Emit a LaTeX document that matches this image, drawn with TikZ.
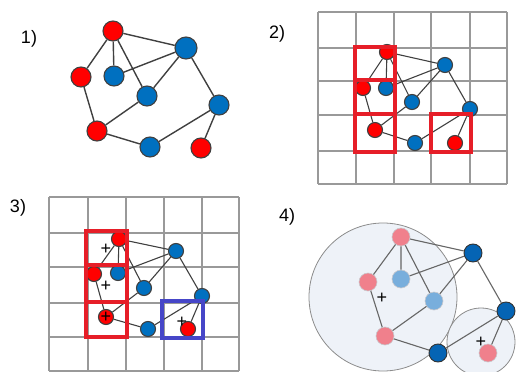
\documentclass[tikz,border=0pt]{standalone}
\usepackage{fontspec}
\setmainfont{Liberation Sans}
\begin{document}
\begin{tikzpicture}[x=1pt,y=-1pt,
  vred/.style={circle,draw=black!75,line width=1.1pt,fill=red,minimum size=#1,inner sep=0pt},
  vblue/.style={circle,draw=black!75,line width=1.1pt,fill={rgb,255:red,0;green,112;blue,192},minimum size=#1,inner sep=0pt},
  vpink/.style={circle,draw={rgb,255:red,200;green,200;blue,205},line width=0.6pt,fill={rgb,255:red,240;green,128;blue,140},minimum size=18pt,inner sep=0pt},
  vlblue/.style={circle,draw={rgb,255:red,200;green,200;blue,205},line width=0.6pt,fill={rgb,255:red,120;green,174;blue,220},minimum size=18pt,inner sep=0pt},
  vdblue/.style={circle,draw=black!80,line width=0.9pt,fill={rgb,255:red,5;green,100;blue,180},minimum size=18pt,inner sep=0pt},
  edge/.style={draw=black!75,line width=1.4pt},
  gridl/.style={draw=black!40,line width=1.4pt},
  selbox/.style={draw={rgb,255:red,230;green,30;blue,40},line width=4pt},
  bluebox/.style={draw={rgb,255:red,70;green,70;blue,200},line width=4pt},
  region/.style={draw=black!45,line width=0.8pt,fill={rgb,255:red,238;green,242;blue,248}},
  lbl/.style={font=\fontsize{18}{20}\selectfont,inner sep=0pt},
  plus/.style={font=\fontsize{18}{18}\selectfont,inner sep=0pt}]
\useasboundingbox (0,0) rectangle (517,372);

% ---------- Panel 1 ----------
\node[lbl] (l1) at (29,39) {1)};
\node[vred=20pt]  (a1) at (113,31) {};
\node[vblue=22pt] (b1) at (186,48) {};
\node[vred=20pt]  (c1) at (81,77) {};
\node[vblue=20pt] (d1) at (114,76) {};
\node[vblue=20pt] (e1) at (147,96) {};
\node[vblue=20pt] (f1) at (219,105) {};
\node[vred=20pt]  (g1) at (97,131) {};
\node[vblue=20pt] (h1) at (150,147) {};
\node[vred=20pt]  (i1) at (201,148) {};
\draw[edge] (a1)--(b1) (a1)--(c1) (a1)--(d1) (a1)--(e1) (d1)--(b1) (e1)--(b1)
  (b1)--(f1) (c1)--(g1) (g1)--(e1) (g1)--(h1) (h1)--(f1) (f1)--(i1);

% ---------- Panel 2 ----------
\node[lbl] (l2) at (277,34) {2)};
\foreach \x in {318,356,394,431,470,507} \draw[gridl] (\x,12) -- (\x,184);
\foreach \y in {12,48,81,115,151,184} \draw[gridl] (318,\y) -- (507,\y);
\node[vred=15pt]  (a2) at (387,52) {};
\node[vblue=15pt] (b2) at (445,65) {};
\node[vred=15pt]  (c2) at (363,88) {};
\node[vblue=15pt] (d2) at (386,88) {};
\node[vblue=15pt] (e2) at (412,102) {};
\node[vblue=15pt] (f2) at (470,109) {};
\node[vred=15pt]  (g2) at (375,130) {};
\node[vblue=15pt] (h2) at (415,143) {};
\node[vred=15pt]  (i2) at (455,143) {};
\draw[edge,line width=1.1pt] (a2)--(b2) (a2)--(c2) (a2)--(d2) (a2)--(e2) (d2)--(b2) (e2)--(b2)
  (b2)--(f2) (c2)--(g2) (g2)--(e2) (g2)--(h2) (h2)--(f2) (f2)--(i2);
\draw[selbox] (355,47) rectangle (395,80);
\draw[selbox] (355,80) rectangle (395,114);
\draw[selbox] (355,114) rectangle (395,152);
\draw[selbox] (431,114) rectangle (471,152);

% ---------- Panel 3 ----------
\node[lbl] (l3) at (18,208) {3)};
\foreach \x in {49,88,126,164,202,239} \draw[gridl] (\x,197) -- (\x,371);
\foreach \y in {197,233,267,303,337,371} \draw[gridl] (49,\y) -- (239,\y);
\node[vred=15pt]  (a3) at (119,239) {};
\node[vblue=15pt] (b3) at (176,251) {};
\node[vred=15pt]  (c3) at (94,274) {};
\node[vblue=15pt] (d3) at (118,273) {};
\node[vblue=15pt] (e3) at (144,288) {};
\node[vblue=15pt] (f3) at (202,296) {};
\node[vred=15pt]  (g3) at (106,317) {};
\node[vblue=15pt] (h3) at (148,329) {};
\node[vred=15pt]  (i3) at (188,329) {};
\draw[edge,line width=1.1pt] (a3)--(b3) (a3)--(c3) (a3)--(d3) (a3)--(e3) (d3)--(b3) (e3)--(b3)
  (b3)--(f3) (c3)--(g3) (g3)--(e3) (g3)--(h3) (h3)--(f3) (f3)--(i3);
\draw[selbox] (86,231) rectangle (127,265);
\draw[selbox] (86,265) rectangle (127,302);
\draw[selbox] (86,302) rectangle (127,337);
\draw[bluebox] (162,301) rectangle (203,338);
\node[plus] (p31) at (106,249) {+};
\node[plus] (p32) at (106,286) {+};
\node[plus] (p33) at (106,317) {+};
\node[plus] (p34) at (182,322) {+};

% ---------- Panel 4 ----------
\node[lbl] (l4) at (287,217) {4)};
\draw[region] (383,297) circle (74);
\draw[region] (481,342) circle (34);
\node[vpink]  (a4) at (401,237) {};
\node[vdblue] (b4) at (473,253) {};
\node[vpink]  (c4) at (368,282) {};
\node[vlblue] (d4) at (401,279) {};
\node[vlblue] (e4) at (434,301) {};
\node[vdblue] (f4) at (506,311) {};
\node[vpink]  (g4) at (385,336) {};
\node[vdblue] (h4) at (438,353) {};
\node[vpink]  (i4) at (488,353) {};
\draw[edge,draw=black!60,line width=1.1pt] (a4)--(b4) (a4)--(c4) (a4)--(d4) (a4)--(e4) (d4)--(b4) (e4)--(b4)
  (b4)--(f4) (c4)--(g4) (g4)--(e4) (g4)--(h4) (h4)--(f4) (f4)--(i4);
\node[plus] (p41) at (382,298) {+};
\node[plus] (p42) at (481,342) {+};
\end{tikzpicture}
\end{document}
